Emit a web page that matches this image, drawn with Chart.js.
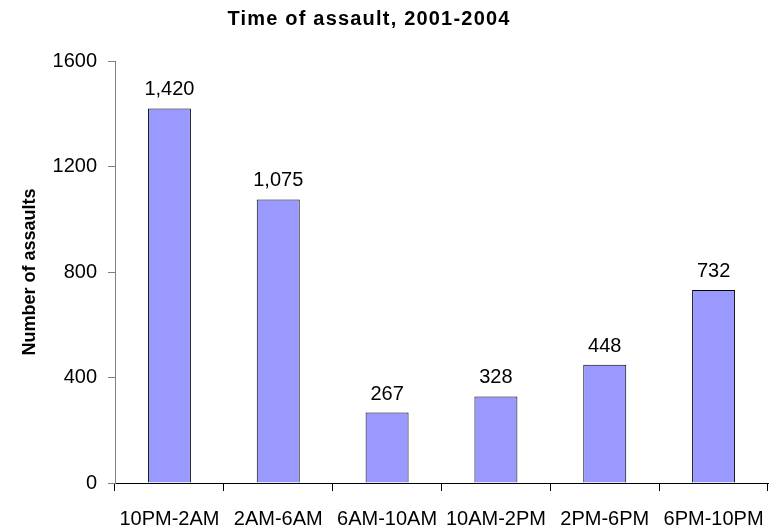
<!DOCTYPE html>
<html>
<head>
<meta charset="utf-8">
<script src="https://cdn.jsdelivr.net/npm/chart.js@4.4.1/dist/chart.umd.min.js"></script>
<style>
html,body{margin:0;padding:0;background:#fff;}
#wrap{width:769px;height:529px;position:relative;}
</style>
</head>
<body>
<div id="wrap"><canvas id="c" width="769" height="529"></canvas></div>
<script>
const categories = ["10PM-2AM","2AM-6AM","6AM-10AM","10AM-2PM","2PM-6PM","6PM-10PM"];
const assaults = [1420,1075,267,328,448,732];
const yTicks = [0,400,800,1200,1600];
const chartTitle = "Time of assault, 2001-2004";
const yTitle = "Number of assaults";

const FONT = "'Liberation Sans', Arial, sans-serif";

const titlePlugin = {
  id: 'customTitle',
  afterDraw(chart) {
    const ctx = chart.ctx;
    ctx.save();
    ctx.font = "bold 20px " + FONT;
    try { ctx.letterSpacing = "1.2px"; } catch (e) {}
    ctx.fillStyle = "#000";
    ctx.textAlign = "center";
    ctx.textBaseline = "alphabetic";
    ctx.fillText(chartTitle, 369, 25);
    ctx.restore();
  }
};

const labelPlugin = {
  id: 'barLabels',
  afterDatasetsDraw(chart) {
    const ctx = chart.ctx;
    const meta = chart.getDatasetMeta(0);
    ctx.save();
    ctx.font = "20px " + FONT;
    ctx.fillStyle = "#000";
    ctx.textAlign = "center";
    ctx.textBaseline = "alphabetic";
    meta.data.forEach((bar, i) => {
      ctx.fillText(assaults[i].toLocaleString('en-US'), bar.x, bar.y - 13);
    });
    ctx.restore();
  }
};

new Chart(document.getElementById('c'), {
  type: 'bar',
  data: {
    labels: categories,
    datasets: [{
      data: assaults,
      backgroundColor: '#9999FF',
      borderColor: '#000',
      borderWidth: 1,
      barPercentage: 0.395,
      categoryPercentage: 1.0
    }]
  },
  options: {
    responsive: false,
    animation: false,
    devicePixelRatio: 1,
    layout: { padding: { top: 61, right: 1, left: 0, bottom: 0 } },
    plugins: { legend: { display: false }, title: { display: false }, tooltip: { enabled: false } },
    scales: {
      x: {
        offset: true,
        grid: { offset: true, drawOnChartArea: false, tickLength: 8, color: '#000' },
        border: { color: '#000', width: 1 },
        ticks: { color: '#000', font: { family: FONT, size: 20 }, padding: 16, maxRotation: 0, autoSkip: false },
        afterFit(scale) { scale.height = 46; scale.paddingLeft = 0; scale.paddingRight = 0; }
      },
      y: {
        min: 0, max: 1600,
        afterBuildTicks(scale) { scale.ticks = yTicks.map(v => ({ value: v })); },
        grid: { drawOnChartArea: false, tickLength: 7, color: '#808080' },
        border: { color: '#808080', width: 1 },
        ticks: { color: '#000', font: { family: FONT, size: 20 }, padding: 11, callback: (v) => String(v) },
        title: { display: true, text: yTitle, color: '#000', font: { family: FONT, size: 18, weight: 'bold' }, padding: { top: 19, bottom: 0 } },
        afterFit(scale) { scale.width = 115; scale.paddingTop = 0; scale.paddingBottom = 0; }
      }
    }
  },
  plugins: [titlePlugin, labelPlugin]
});
</script>
</body>
</html>
